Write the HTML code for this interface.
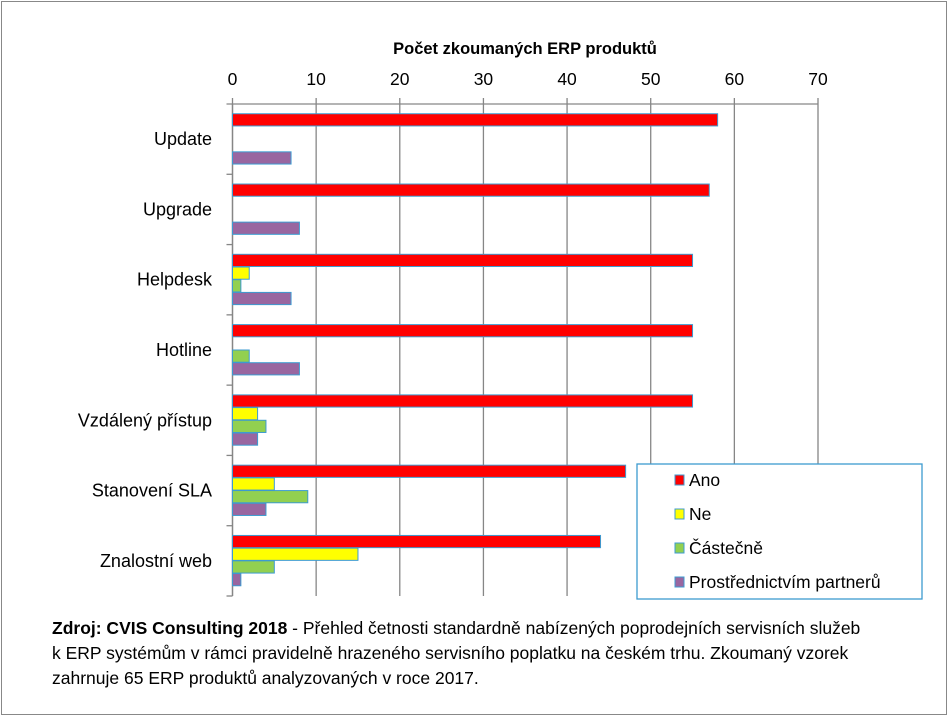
<!DOCTYPE html>
<html><head><meta charset="utf-8"><style>
body{margin:0;background:#fff;font-family:"Liberation Sans","DejaVu Sans",sans-serif;}
#wrap{position:relative;width:948px;height:716px;overflow:hidden}
#note{position:absolute;left:52px;top:616px;width:900px;font-size:17.5px;line-height:25px;color:#000;white-space:nowrap}
</style></head><body>
<div id="wrap">
<svg id="chart" width="948" height="716" style="position:absolute;left:0;top:0">
<rect x="1.5" y="1.5" width="945" height="713" fill="#fff" stroke="#888"/>
</svg>
<div id="note"><b>Zdroj: CVIS Consulting 2018</b> - Přehled četnosti standardně nabízených poprodejních servisních služeb<br>k ERP systémům v rámci pravidelně hrazeného servisního poplatku na českém trhu. Zkoumaný vzorek<br>zahrnuje 65 ERP produktů analyzovaných v roce 2017.</div>
</div>
<script>
const categories=["Update","Upgrade","Helpdesk","Hotline","Vzdálený přístup","Stanovení SLA","Znalostní web"];
const seriesNames=["Ano","Ne","Částečně","Prostřednictvím partnerů"];
const ano=[58,57,55,55,55,47,44];
const ne=[0,0,2,0,3,5,15];
const castecne=[0,0,1,2,4,9,5];
const partneri=[7,8,7,8,3,4,1];
const ticks=[0,10,20,30,40,50,60,70];
const colors=["#ff0000","#ffff00","#92d050","#9966a0"];
const series=[ano,ne,castecne,partneri];
const NS="http://www.w3.org/2000/svg";
const svg=document.getElementById('chart');
const x0=232.5,x1=818,y0=104,y1=596;
const xs=v=>x0+(v-0)/(70-0)*(x1-x0);
const band=(y1-y0)/categories.length;
function mk(t,a,p){const e=document.createElementNS(NS,t);for(const k in a)e.setAttribute(k,a[k]);(p||svg).appendChild(e);return e;}
ticks.forEach(t=>{
 const g=mk('line',{x1:xs(t),x2:xs(t),y1:y0-6,y2:y1,stroke:'#868686','stroke-width':1.3});
 
 
 const l=mk('text',{x:xs(t),y:85,'text-anchor':'middle','font-size':17.5,fill:'#000'});
 l.textContent=t;
 
 
});
const ax=mk('line',{x1:x0-6,x2:x1,y1:y0,y2:y0,stroke:'#868686','stroke-width':1.3});


const ay=mk('line',{x1:x0,x2:x0,y1:y0,y2:y1,stroke:'#868686','stroke-width':1.3});


const tt=mk('text',{x:525,y:54,'text-anchor':'middle','font-size':16.5,'font-weight':'bold',fill:'#000'});
tt.textContent="Počet zkoumaných ERP produktů";


const bh=12.7,off=(band-4*bh)/2;
categories.forEach((c,i)=>{
 const by=y0+i*band;
 const tk=mk('line',{x1:x0-6,x2:x0,y1:by+band,y2:by+band,stroke:'#868686','stroke-width':1.3});
 
 
 const l=mk('text',{x:212,y:by+band/2+6,'text-anchor':'end','font-size':18,fill:'#000'});
 l.textContent=c;
 
 
 series.forEach((s,j)=>{
  if(s[i]<=0)return;
  const r=mk('rect',{x:x0,y:by+off+j*bh,width:xs(s[i])-x0,height:bh-0.5,fill:colors[j],stroke:'#3d9bd0','stroke-width':1});
  
  
 });
});
const lg=mk('g',{});


mk('rect',{x:637,y:464,width:285,height:135,fill:'#fff',stroke:'#3d9bd0','stroke-width':1.3},lg);
seriesNames.forEach((n,j)=>{
 const y=480+j*34;
 const sq=mk('rect',{x:675,y:y-5,width:9,height:10,fill:colors[j],stroke:'#3d9bd0','stroke-width':1},lg);
 
 
 const t=mk('text',{x:689,y:y+6,'font-size':17.5,fill:'#000'},lg);
 t.textContent=n;
 
 
});
</script>
</body></html>
